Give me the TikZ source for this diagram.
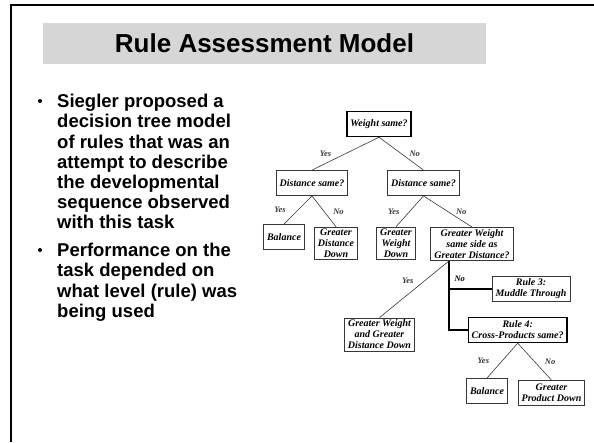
\documentclass[tikz,border=0pt]{standalone}
\usepackage{fontspec}
\setmainfont{Liberation Sans}
\newfontfamily\treefont{Liberation Serif}
\definecolor{titlegray}{RGB}{214,214,214}
\definecolor{boxgray}{RGB}{55,55,55}

\begin{document}
\begin{tikzpicture}[x=1pt, y=-1pt, every edge/.style={draw, boxgray, line width=.6pt}]
      \tikzset{rulebox/.style={draw=boxgray, line width=.8pt, inner xsep=3.5pt, inner ysep=2pt, minimum height=25pt, align=center, font=\treefont\bfseries\itshape\fontsize{10}{11}\selectfont},
               keybox/.style={rulebox, draw=black, line width=1.4pt},
               answer/.style={inner sep=1pt, font=\treefont\bfseries\itshape\fontsize{8.5}{9}\selectfont},
               branch/.style={draw, black, line width=1.1pt},
               pointtext/.style={align=left, inner sep=0pt, font=\bfseries\fontsize{18.5}{20.2}\selectfont},
               pointdot/.style={circle, fill=black, inner sep=0pt, minimum size=4pt}}
      \useasboundingbox (0,0) rectangle (594,442);
%% Slide frame and title
      \draw[line width=2.6pt] (594,5) -- (11,5) -- (11,442);
      \node[fill=titlegray, minimum width=443pt, minimum height=41pt, inner sep=0pt] (title) at (264.5,43.5) {\fontsize{26}{30}\selectfont\bfseries Rule Assessment Model};
%% Bullet points
      \node[pointdot] (dotA) at (40,101) {};
      \node[pointtext, anchor=north west] (pointA) at (57,94) {Siegler proposed a\\decision tree model\\of rules that was an\\attempt to describe\\the developmental\\sequence observed\\with this task};
      \node[pointdot] (dotB) at (40,250) {};
      \node[pointtext, anchor=north west] (pointB) at (57,243) {Performance on the\\task depended on\\what level (rule) was\\being used};
%% Decision tree
      \node[keybox] (weight) at (379,124) {Weight same?};
      \node[rulebox] (distL) at (312,183) {Distance same?};
      \node[rulebox] (distR) at (423.5,183) {Distance same?};
      \node[rulebox] (balL) at (284,237) {Balance};
      \node[rulebox] (gdd) at (336,243.5) {Greater\\Distance\\Down};
      \node[rulebox] (gwd) at (396,243.5) {Greater\\Weight\\Down};
      \node[rulebox] (gws) at (472,244) {Greater Weight\\same side as\\Greater Distance?};
      \node[rulebox] (rule3) at (531,289) {Rule 3:\\Muddle Through};
      \node[rulebox] (gwgd) at (379.5,334.5) {Greater Weight\\and Greater\\Distance Down};
      \node[keybox] (rule4) at (517.7,330) {Rule 4:\\Cross-Products same?};
      \node[rulebox] (balR) at (487,391) {Balance};
      \node[rulebox] (gpd) at (551.5,393) {Greater\\Product Down};
      \coordinate (split) at ([xshift=18.5pt]gws.south west);
%Edges
      \path (weight.south) edge node[answer, midway, left=13pt] {Yes} (distL.north);
      \path (weight.south) edge node[answer, midway, right=7pt] {No} (distR.north);
      \path (distL.south) edge node[answer, midway, left=11pt] {Yes} (balL.north);
      \path (distL.south) edge node[answer, midway, right=8pt] {No} (gdd.north);
      \path (distR.south) edge node[answer, midway, left=9pt] {Yes} (gwd.north);
      \path (distR.south) edge node[answer, midway, right=7pt] {No} (gws.north);
      \path (split) edge node[answer, pos=.35, left=10pt] {Yes} (gwgd.north);
      \draw[branch] (split) -- node[answer, pos=.65, right=4pt] {No} (split |- rule3.west) -- (rule3.west);
      \draw[branch] (split |- rule3.west) -- (split |- rule4.west) -- (rule4.west);
      \path (rule4.south) edge node[answer, midway, left=12pt] {Yes} (balR.north);
      \path (rule4.south) edge node[answer, midway, right=9pt] {No} (gpd.north);
\end{tikzpicture}
\end{document}
